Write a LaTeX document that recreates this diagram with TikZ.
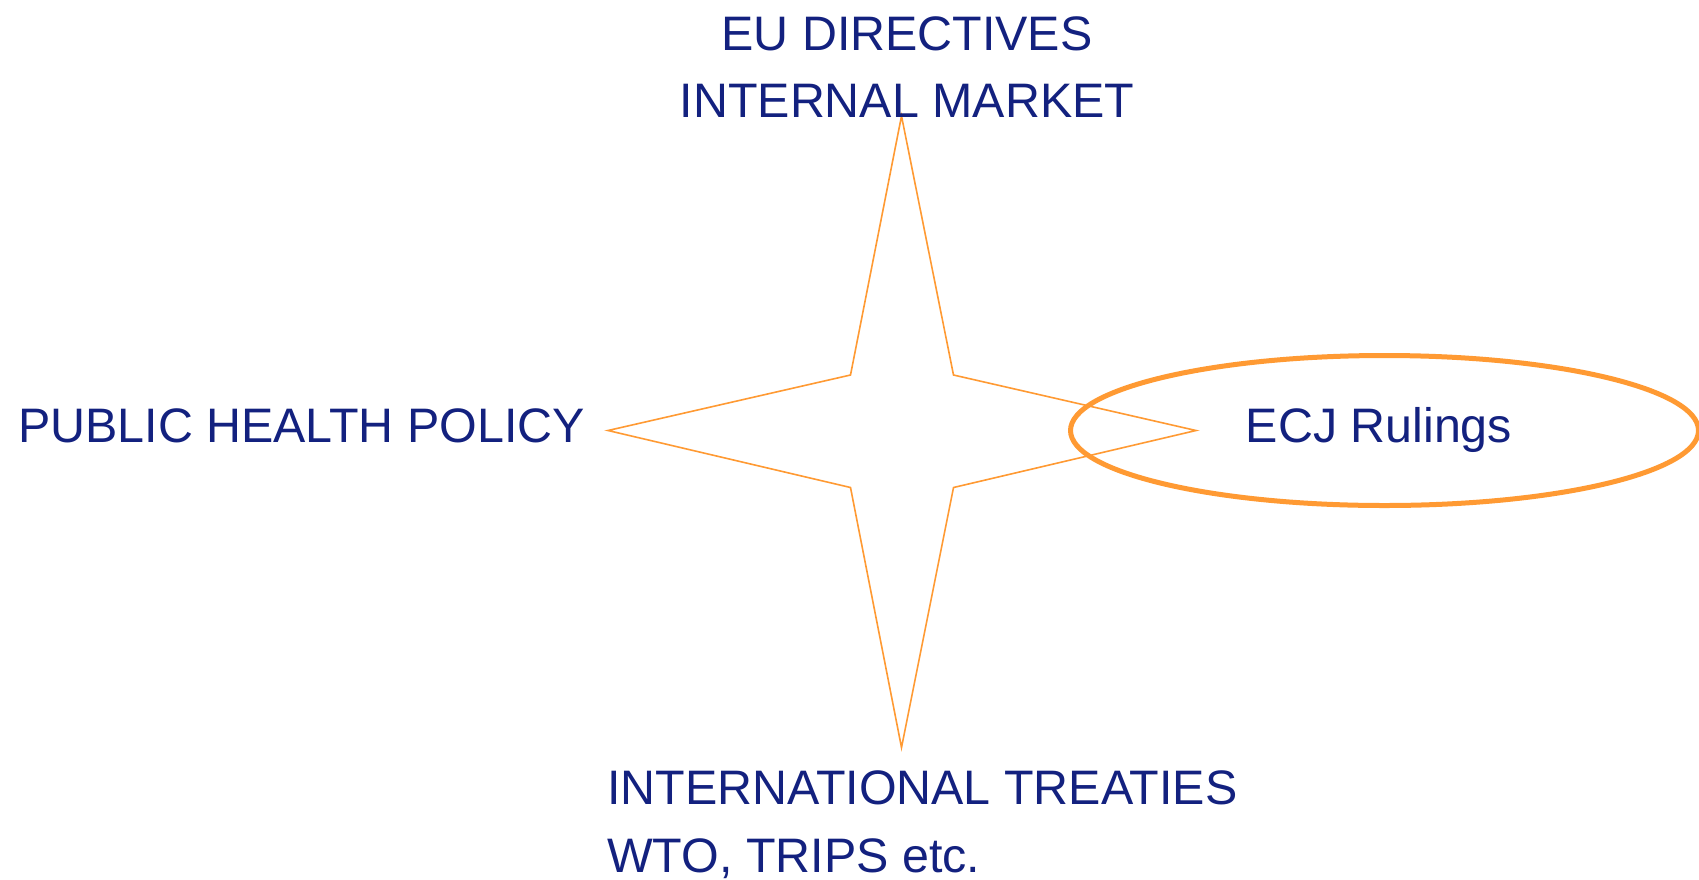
\documentclass[tikz,border=0pt]{standalone}
\usepackage{fontspec}
\setmainfont{Liberation Sans}
\usetikzlibrary{shapes.geometric}
\definecolor{navytext}{HTML}{13217F}
\definecolor{starorange}{HTML}{FF9A33}
\begin{document}
\begin{tikzpicture}[x=1pt,y=-1pt,
  label/.style={text=navytext,font=\fontsize{48.4}{58}\selectfont,inner sep=0pt},
  starline/.style={draw=starorange,line width=1.6pt,line join=miter},
  ruling/.style={draw=starorange,line width=5pt,ellipse,inner sep=0pt}]
\useasboundingbox (0,0) rectangle (1699,879);
\fill[white] (0,0) rectangle (1699,879);

% four-pointed star
\coordinate (top) at (901.5,116);
\coordinate (ne) at (953.5,375);
\coordinate (right) at (1196,430.5);
\coordinate (se) at (953.5,487.5);
\coordinate (bottom) at (901.5,747.5);
\coordinate (sw) at (850.5,487.5);
\coordinate (left) at (608,430.5);
\coordinate (nw) at (850.5,375);
\draw[starline] (top) -- (ne) -- (right) -- (se) -- (bottom) -- (sw) -- (left) -- (nw) -- cycle;

% ellipse round the rulings
\node[ruling,minimum width=628pt,minimum height=150pt] (ecjring) at (1384.5,430.5) {};

% labels
\node[label,anchor=base] (eudir) at (907,50) {EU DIRECTIVES};
\node[label,anchor=base] (intmkt) at (907,117) {INTERNAL MARKET};
\node[label,anchor=base west] (health) at (18,442) {PUBLIC HEALTH POLICY};
\node[label,anchor=base] (ecj) at (1379,442) {ECJ Rulings};
\node[label,anchor=base west] (treaties) at (607,804) {INTERNATIONAL TREATIES};
\node[label,anchor=base west] (wto) at (607,872) {WTO, TRIPS etc.};
\end{tikzpicture}
\end{document}
